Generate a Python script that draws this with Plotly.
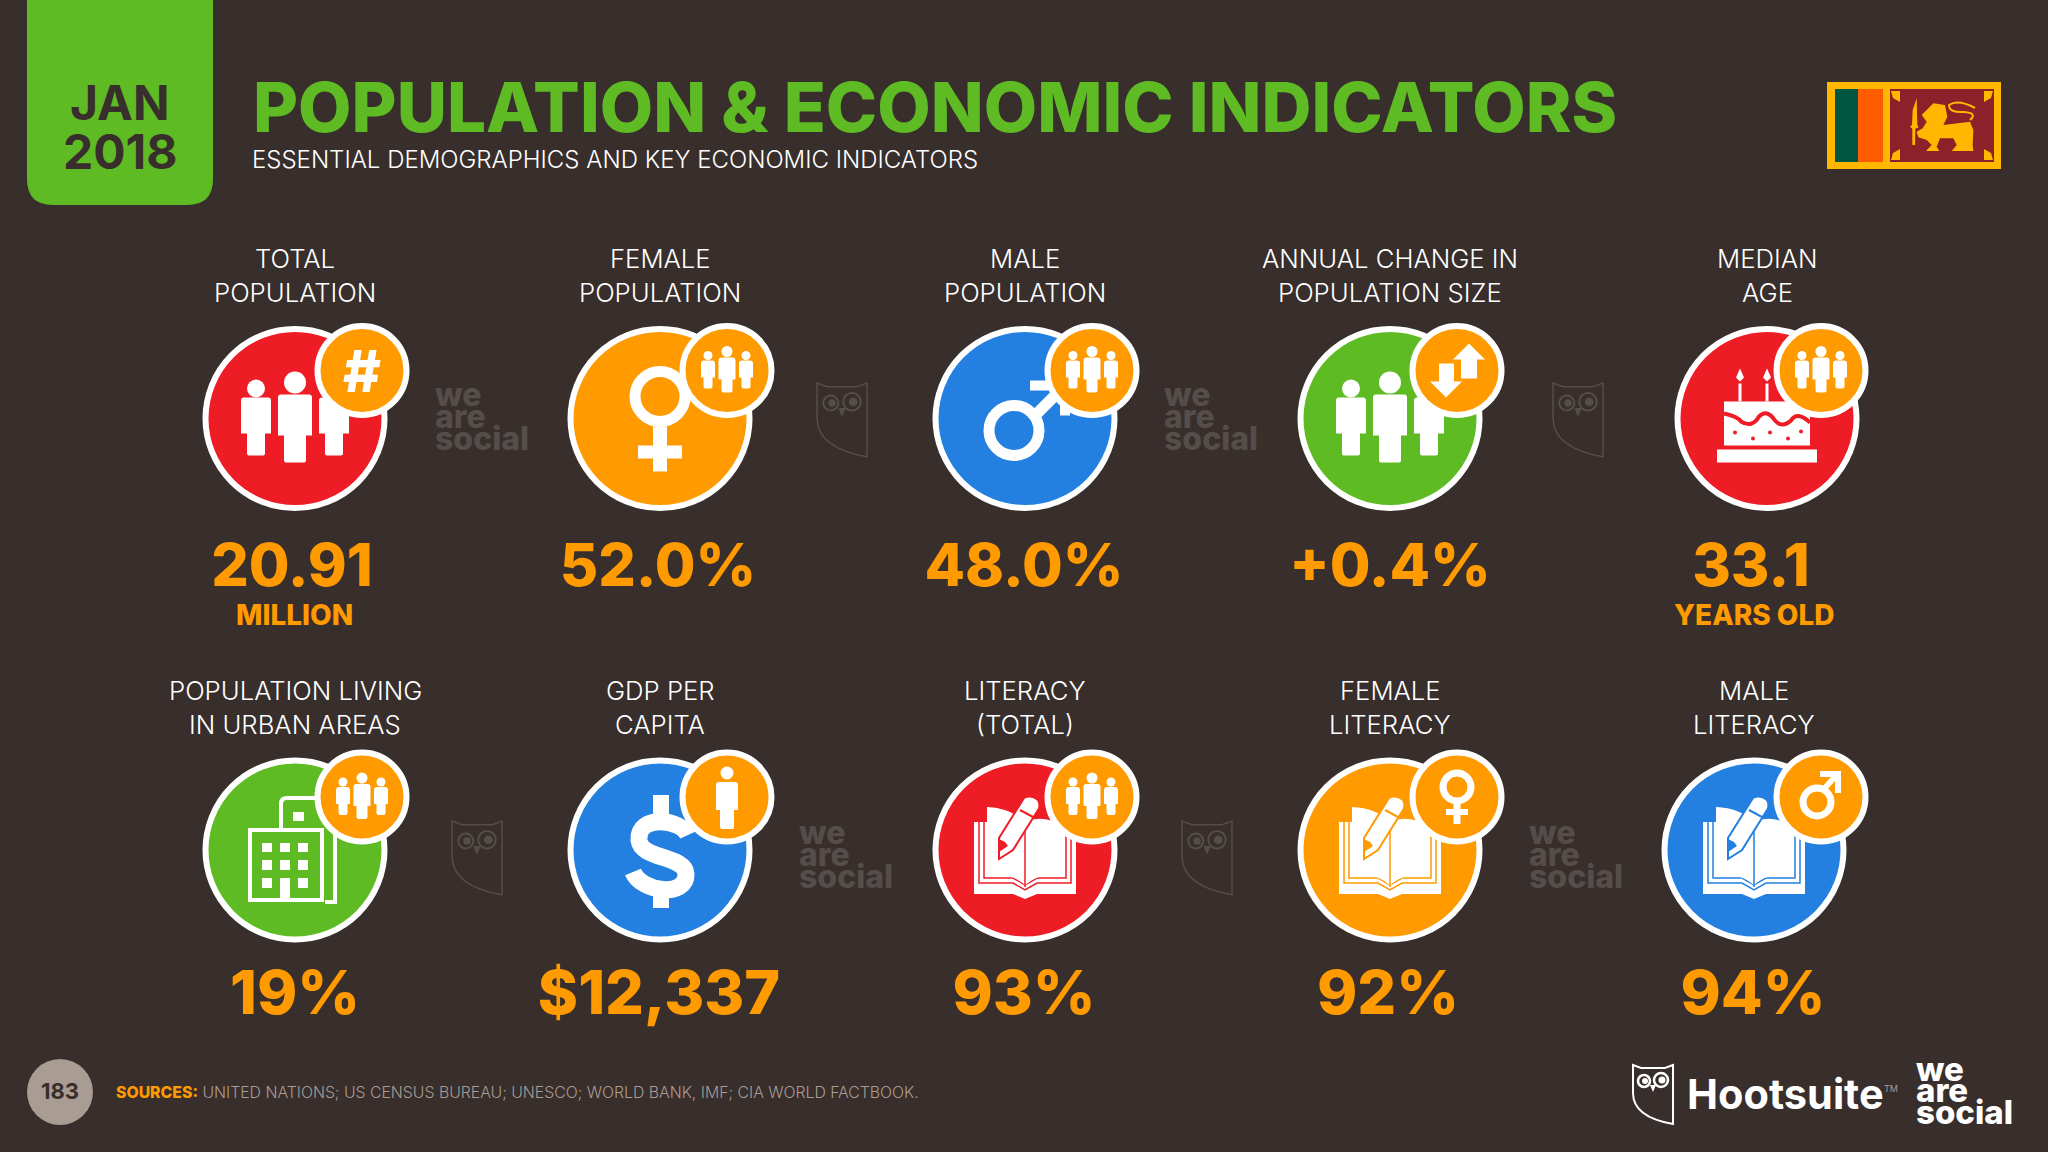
import plotly.graph_objects as go

BG = "#382e2c"
GREEN = "#5fbb24"
RED = "#ee1c25"
ORANGE = "#ff9a00"
BLUE = "#2380e0"
WHITE = "#ffffff"
MARK = "#544d4a"
GREY = "#a89c93"
FONT = "Inter"

# the two rows of indicators
labels = [["TOTAL", "POPULATION"], ["FEMALE", "POPULATION"], ["MALE", "POPULATION"],
          ["ANNUAL CHANGE IN", "POPULATION SIZE"], ["MEDIAN", "AGE"],
          ["POPULATION LIVING", "IN URBAN AREAS"], ["GDP PER", "CAPITA"], ["LITERACY", "(TOTAL)"],
          ["FEMALE", "LITERACY"], ["MALE", "LITERACY"]]
values = ["20.91", "52.0%", "48.0%", "+0.4%", "33.1", "19%", "$12,337", "93%", "92%", "94%"]
units = ["MILLION", "", "", "", "YEARS OLD", "", "", "", "", ""]
colors = [RED, ORANGE, BLUE, GREEN, RED, GREEN, BLUE, RED, ORANGE, BLUE]
big_icons = ["people", "female", "male", "people", "cake", "building", "dollar", "book", "book", "book"]
small_icons = ["hash", "people", "people", "arrows", "people", "people", "person", "people", "female", "male"]

# layout positions in page pixels
circle_x = [295, 660, 1025, 1390, 1767, 295, 660, 1025, 1390, 1754]
circle_y = [418.5] * 5 + [850] * 5
small_dx = [67, 67, 67, 67, 54, 67, 67, 67, 67, 67]
small_dy = [-48] * 5 + [-53] * 5
label_y = [258] * 5 + [690] * 5
value_x = [292, 658, 1024, 1390, 1751, 295, 659, 1024, 1388, 1753]
value_y = [571] * 5 + [999] * 5
value_size = [59] * 5 + [61] * 5
unit_x = [294, 0, 0, 0, 1754, 0, 0, 0, 0, 0]

shapes = []
notes = []


def poly(pts, ox=0, oy=0, fill=WHITE):
    d = "M" + " L".join(f"{x + ox},{y + oy}" for x, y in pts) + " Z"
    shapes.append(dict(type="path", path=d, fillcolor=fill, line_width=0))


def rect(x0, y0, x1, y1, fill=WHITE, line=None, lw=0):
    shapes.append(dict(type="rect", x0=x0, y0=y0, x1=x1, y1=y1, fillcolor=fill,
                       line=dict(color=line or fill, width=lw)))


def circ(cx, cy, r, fill=WHITE, line=None, lw=0):
    shapes.append(dict(type="circle", x0=cx - r, y0=cy - r, x1=cx + r, y1=cy + r, fillcolor=fill,
                       line=dict(color=line or fill, width=lw)))


def stroke(d, color=WHITE, lw=2):
    shapes.append(dict(type="path", path=d, line=dict(color=color, width=lw)))


def txt(x, y, text, size, color=WHITE, weight=400, family=FONT, anchor="center"):
    notes.append(dict(x=x, y=y, text=text, showarrow=False, xanchor=anchor, yanchor="middle",
                      font=dict(size=size, color=color, family=family, weight=weight)))


def person(cx, head_y, r, top, bottom, w, leg, hip):
    circ(cx, head_y, r)
    d = (f"M{cx - w},{top + 3} Q{cx - w},{top} {cx - w + 3},{top} L{cx + w - 3},{top} Q{cx + w},{top} {cx + w},{top + 3} "
         f"L{cx + w},{hip} L{cx + leg},{hip} L{cx + leg},{bottom - 2} Q{cx + leg},{bottom} {cx + leg - 2},{bottom} "
         f"L{cx - leg + 2},{bottom} Q{cx - leg},{bottom} {cx - leg},{bottom - 2} L{cx - leg},{hip} L{cx - w},{hip} Z")
    shapes.append(dict(type="path", path=d, fillcolor=WHITE, line_width=0))


def big_people(cx, cy):
    person(cx - 39, cy - 30, 9, cy - 21, cy + 37, 15, 9, cy + 15)
    person(cx + 39, cy - 30, 9, cy - 21, cy + 37, 15, 9, cy + 15)
    person(cx, cy - 36, 11, cy - 24, cy + 44, 17, 11, cy + 17)


def small_people(cx, cy):
    person(cx - 19, cy - 15, 4.5, cy - 10, cy + 18, 7, 4.5, cy + 7)
    person(cx + 19, cy - 15, 4.5, cy - 10, cy + 18, 7, 4.5, cy + 7)
    person(cx, cy - 19, 5.5, cy - 13, cy + 22, 8.5, 5.5, cy + 9)


def female(cx, cy, color):
    circ(cx, cy - 22, 25, color, WHITE, 11)
    rect(cx - 7, cy + 8, cx + 7, cy + 53)
    rect(cx - 22, cy + 27, cx + 22, cy + 40)


def male(cx, cy, color):
    poly([(5, -38), (45, -38), (45, -3), (35, -3), (35, -20), (13, 2), (5, -6), (27, -28), (5, -28)], cx, cy)
    circ(cx - 11, cy + 12, 25, color, WHITE, 11)


def small_female(cx, cy, color):
    circ(cx, cy - 10, 14, color, WHITE, 7)
    rect(cx - 3.5, cy + 6, cx + 3.5, cy + 27)
    rect(cx - 11, cy + 12, cx + 11, cy + 18)


def small_male(cx, cy, color):
    poly([(-1, -26), (20, -26), (20, -4), (14, -4), (14, -16), (4, -5), (0, -9), (10, -20), (-1, -20)], cx, cy)
    circ(cx - 4, cy + 5, 14, color, WHITE, 7)


def arrows(cx, cy):
    poly([(12, -27), (28, -11), (20, -11), (20, 8), (4, 8), (4, -11), (-4, -11)], cx, cy)
    poly([(-11, 27), (-27, 11), (-18, 11), (-18, -7), (-3, -7), (-3, 11), (5, 11)], cx, cy)


def cake(cx, cy):
    rect(cx - 50, cy + 31, cx + 50, cy + 44)
    rect(cx - 43, cy - 17, cx + 43, cy + 27)
    stroke(f"M{cx - 43},{cy - 5} Q{cx - 29},{cy - 2} {cx - 26},{cy + 3} Q{cx - 15},{cy + 10} {cx - 8},{cy - 2} "
           f"Q{cx},{cy - 10} {cx + 8},{cy + 2} Q{cx + 15},{cy + 10} {cx + 24},{cy + 2} Q{cx + 30},{cy - 8} {cx + 43},{cy + 4}", RED, 4)
    for dx, dy in [(-32, 14), (-14, 20), (3, 14), (21, 20), (34, 13)]:
        circ(cx + dx, cy + dy, 2, RED)
    for dx in [-27, 0]:
        rect(cx + dx - 1.5, cy - 35, cx + dx + 1.5, cy - 17)
        poly([(0, -50), (4, -41), (0, -37), (-4, -41)], cx + dx, cy)


def building(cx, cy, color):
    # back block
    stroke(f"M{cx - 14},{cy - 22} L{cx - 14},{cy - 46} Q{cx - 14},{cy - 52} {cx - 8},{cy - 52} L{cx + 25},{cy - 52} "
           f"L{cx + 40},{cy - 20} L{cx + 40},{cy + 52} L{cx + 30},{cy + 52}", WHITE, 4)
    rect(cx - 2, cy - 38, cx + 9, cy - 29)
    # front block
    rect(cx - 45, cy - 20, cx + 27, cy + 50, color, WHITE, 4)
    for dy0, dy1 in [(-7, 2), (10, 20), (28, 38)]:
        for dx0, dx1 in [(-33, -23), (-15, -5), (3, 13)]:
            if dy0 == 28 and dx0 == -15:
                continue
            rect(cx + dx0, cy + dy0, cx + dx1, cy + dy1)
    rect(cx - 15, cy + 28, cx - 5, cy + 50)


def dollar(cx, cy):
    stroke(f"M{cx + 28},{cy - 15} C{cx + 21},{cy - 31} {cx - 23},{cy - 36} {cx - 21},{cy - 10} "
           f"C{cx - 19},{cy + 10} {cx + 25},{cy + 5} {cx + 26},{cy + 24} C{cx + 27},{cy + 48} {cx - 19},{cy + 42} {cx - 27},{cy + 22}",
           WHITE, 17)
    rect(cx - 7, cy - 55, cx + 9, cy - 36)
    rect(cx - 7, cy + 43, cx + 9, cy + 58)


def book(cx, cy, color):
    poly([(-51, -28), (-36, -28), (0, -26), (36, -28), (51, -28), (51, 44), (12, 44), (0, 49), (-12, 44), (-51, 44)], cx, cy)
    for off in [0, 5]:
        stroke(f"M{cx - 46 + off},{cy - 28} L{cx - 46 + off},{cy + 33 - off} L{cx - 12},{cy + 33 - off} L{cx},{cy + 40 - off} "
               f"L{cx + 12},{cy + 33 - off} L{cx + 46 - off},{cy + 33 - off} L{cx + 46 - off},{cy - 28}", color, 1.5)
    shapes.append(dict(type="path", fillcolor=WHITE, line_width=0,
                       path=f"M{cx - 38},{cy - 43} Q{cx - 14},{cy - 42} {cx},{cy - 28} Q{cx + 18},{cy - 36} {cx + 38},{cy - 24} "
                            f"L{cx + 38},{cy + 25} Q{cx + 14},{cy + 22} {cx},{cy + 35} Q{cx - 14},{cy + 22} {cx - 38},{cy + 25} Z"))
    stroke(f"M{cx},{cy - 20} L{cx},{cy + 37}", color, 1.5)
    # pencil
    shapes.append(dict(type="path", fillcolor=WHITE, line=dict(color=color, width=2),
                       path=f"M{cx - 26},{cy + 9} L{cx - 26},{cy - 12} L{cx - 1},{cy - 52} Q{cx + 6},{cy - 56} {cx + 13},{cy - 50} "
                            f"Q{cx + 16},{cy - 44} {cx + 13},{cy - 40} L{cx - 12},{cy} Z"))
    stroke(f"M{cx - 5},{cy - 40} L{cx + 8},{cy - 33}", color, 2)
    poly([(-26, 2), (-26, -11), (-20, -8), (-17, -4)], cx, cy, color)


def owl(x, y, k, color, lw):
    d = (f"M{x},{y} L{x + 8 * k},{y + 3 * k} L{x + 32 * k},{y + 3 * k} L{x + 40 * k},{y} L{x + 40 * k},{y + 59 * k} "
         f"Q{x},{y + 52 * k} {x},{y + 28 * k} Z")
    stroke(d, color, lw)
    circ(x + 11 * k, y + 16 * k, 6 * k, BG, color, lw + 0.5)
    circ(x + 28 * k, y + 15 * k, 7 * k, BG, color, lw + 0.5)
    circ(x + 29 * k, y + 15 * k, 3.5 * k, color)
    circ(x + 12 * k, y + 16 * k, 3 * k, color)
    poly([(17 * k, 20 * k), (23 * k, 20 * k), (20 * k, 27 * k)], x, y, color)


def wordmark(x, y, size, gap, color):
    for i, word in enumerate(["we", "are", "social"]):
        txt(x, y + (i - 1) * gap, word, size, color, 800, FONT, "left")


# header tab and titles
shapes.append(dict(type="path", fillcolor=GREEN, line_width=0,
                   path="M27,0 L213,0 L213,179 Q213,205 187,205 L53,205 Q27,205 27,179 Z"))
txt(120, 102, "JAN", 48, BG, 700)
txt(120, 151, "2018", 48, BG, 700)
txt(251, 107, "POPULATION &amp; ECONOMIC INDICATORS", 69.2, GREEN, 800, FONT, "left")
txt(250, 159, "ESSENTIAL DEMOGRAPHICS AND KEY ECONOMIC INDICATORS", 24, WHITE, 300, FONT, "left")

# flag
rect(1827, 82, 2001, 169, "#ffb700")
rect(1835, 89, 1858, 162, "#005641")
rect(1858, 89, 1883, 162, "#ff5b00")
rect(1890, 89, 1994, 162, "#8d2129")
lion = [(665, 195), (700, 160), (735, 165), (742, 200), (730, 225), (810, 215), (820, 240), (818, 285), (820, 303),
        (755, 303), (770, 285), (760, 265), (720, 265), (710, 290), (718, 303), (678, 303), (695, 285), (680, 270),
        (655, 262), (650, 245), (668, 235), (680, 215)]
poly([(1700 + a / 3, 50 + b / 3) for a, b in lion], fill="#ffb700")
sword = [(650, 145), (652, 225), (656, 232), (646, 236), (645, 285), (637, 285), (637, 236), (630, 230), (636, 225), (638, 180)]
poly([(1700 + a / 3, 50 + b / 3) for a, b in sword], fill="#ffb700")
stroke("M1970,120 Q1978,113 1964,112 Q1949,113 1949,105 Q1958,99 1975,108", "#ffb700", 2)
for sx, sy, fx, fy in [(1891, 91, 1, 1), (1993, 91, -1, 1), (1891, 160, 1, -1), (1993, 160, -1, -1)]:
    poly([(sx, sy), (sx + 9 * fx, sy), (sx + 9 * fx, sy + 11 * fy), (sx + 2 * fx, sy + 7 * fy)], fill="#ffb700")

# indicators
for i in range(10):
    cx, cy = circle_x[i], circle_y[i]
    col = colors[i]
    txt(cx, label_y[i], labels[i][0], 25.7, WHITE, 300)
    txt(cx, label_y[i] + 34.5, labels[i][1], 25.7, WHITE, 300)
    circ(cx, cy, 89.5, col, WHITE, 6)
    icon = big_icons[i]
    if icon == "people":
        big_people(cx, cy)
    elif icon == "female":
        female(cx, cy, col)
    elif icon == "male":
        male(cx, cy, col)
    elif icon == "cake":
        cake(cx, cy)
    elif icon == "building":
        building(cx, cy, col)
    elif icon == "dollar":
        dollar(cx, cy)
    else:
        book(cx, cy, col)
    sx, sy = cx + small_dx[i], cy + small_dy[i]
    circ(sx, sy, 44.5, ORANGE, WHITE, 6)
    icon = small_icons[i]
    if icon == "people":
        small_people(sx, sy)
    elif icon == "hash":
        txt(sx, sy, "#", 58, WHITE, 800)
    elif icon == "arrows":
        arrows(sx, sy)
    elif icon == "person":
        person(sx, sy - 24, 6.5, sy - 15, sy + 32, 11, 7, sy + 13)
    elif icon == "female":
        small_female(sx, sy, ORANGE)
    else:
        small_male(sx, sy, ORANGE)
    if units[i]:
        txt(unit_x[i], 615, units[i], 28, ORANGE, 800)

# faint watermarks between the circles
for x, y in [(433, 416), (1162, 416), (797, 854), (1527, 854)]:
    wordmark(x, y, 32, 22, MARK)
for x, y in [(817, 383), (1553, 383), (452, 821), (1182, 821)]:
    owl(x, y, 1.25, MARK, 1.5)

# footer
circ(60, 1092, 33, GREY)
txt(60, 1091, "183", 22, BG, 700)
txt(114, 1092, f"<span style='color:{ORANGE};font-weight:800'>SOURCES:</span> "
               "UNITED NATIONS; US CENSUS BUREAU; UNESCO; WORLD BANK, IMF; CIA WORLD FACTBOOK.",
    15.8, GREY, 300, FONT, "left")
owl(1633, 1065, 1, WHITE, 2)
txt(1685, 1094, "Hootsuite", 41.5, WHITE, 700, FONT, "left")
txt(1882, 1088, "TM", 9, GREY, 400, FONT, "left")
wordmark(1914, 1090, 33, 21.5, WHITE)

fig = go.Figure()
fig.add_trace(go.Scatter(x=value_x, y=value_y, mode="text", text=values, textposition="middle center",
                         textfont=dict(size=value_size, color=ORANGE, family=FONT, weight=800),
                         hoverinfo="skip", showlegend=False))
fig.update_layout(width=2048, height=1152, margin=dict(l=0, r=0, t=0, b=0),
                  paper_bgcolor=BG, plot_bgcolor=BG, shapes=shapes, annotations=notes,
                  xaxis=dict(range=[0, 2048], visible=False, fixedrange=True),
                  yaxis=dict(range=[1152, 0], visible=False, fixedrange=True))
fig.write_html("out.html", config=dict(displayModeBar=False),
               post_script="document.body.style.margin='0';document.body.style.background='" + BG + "';")
